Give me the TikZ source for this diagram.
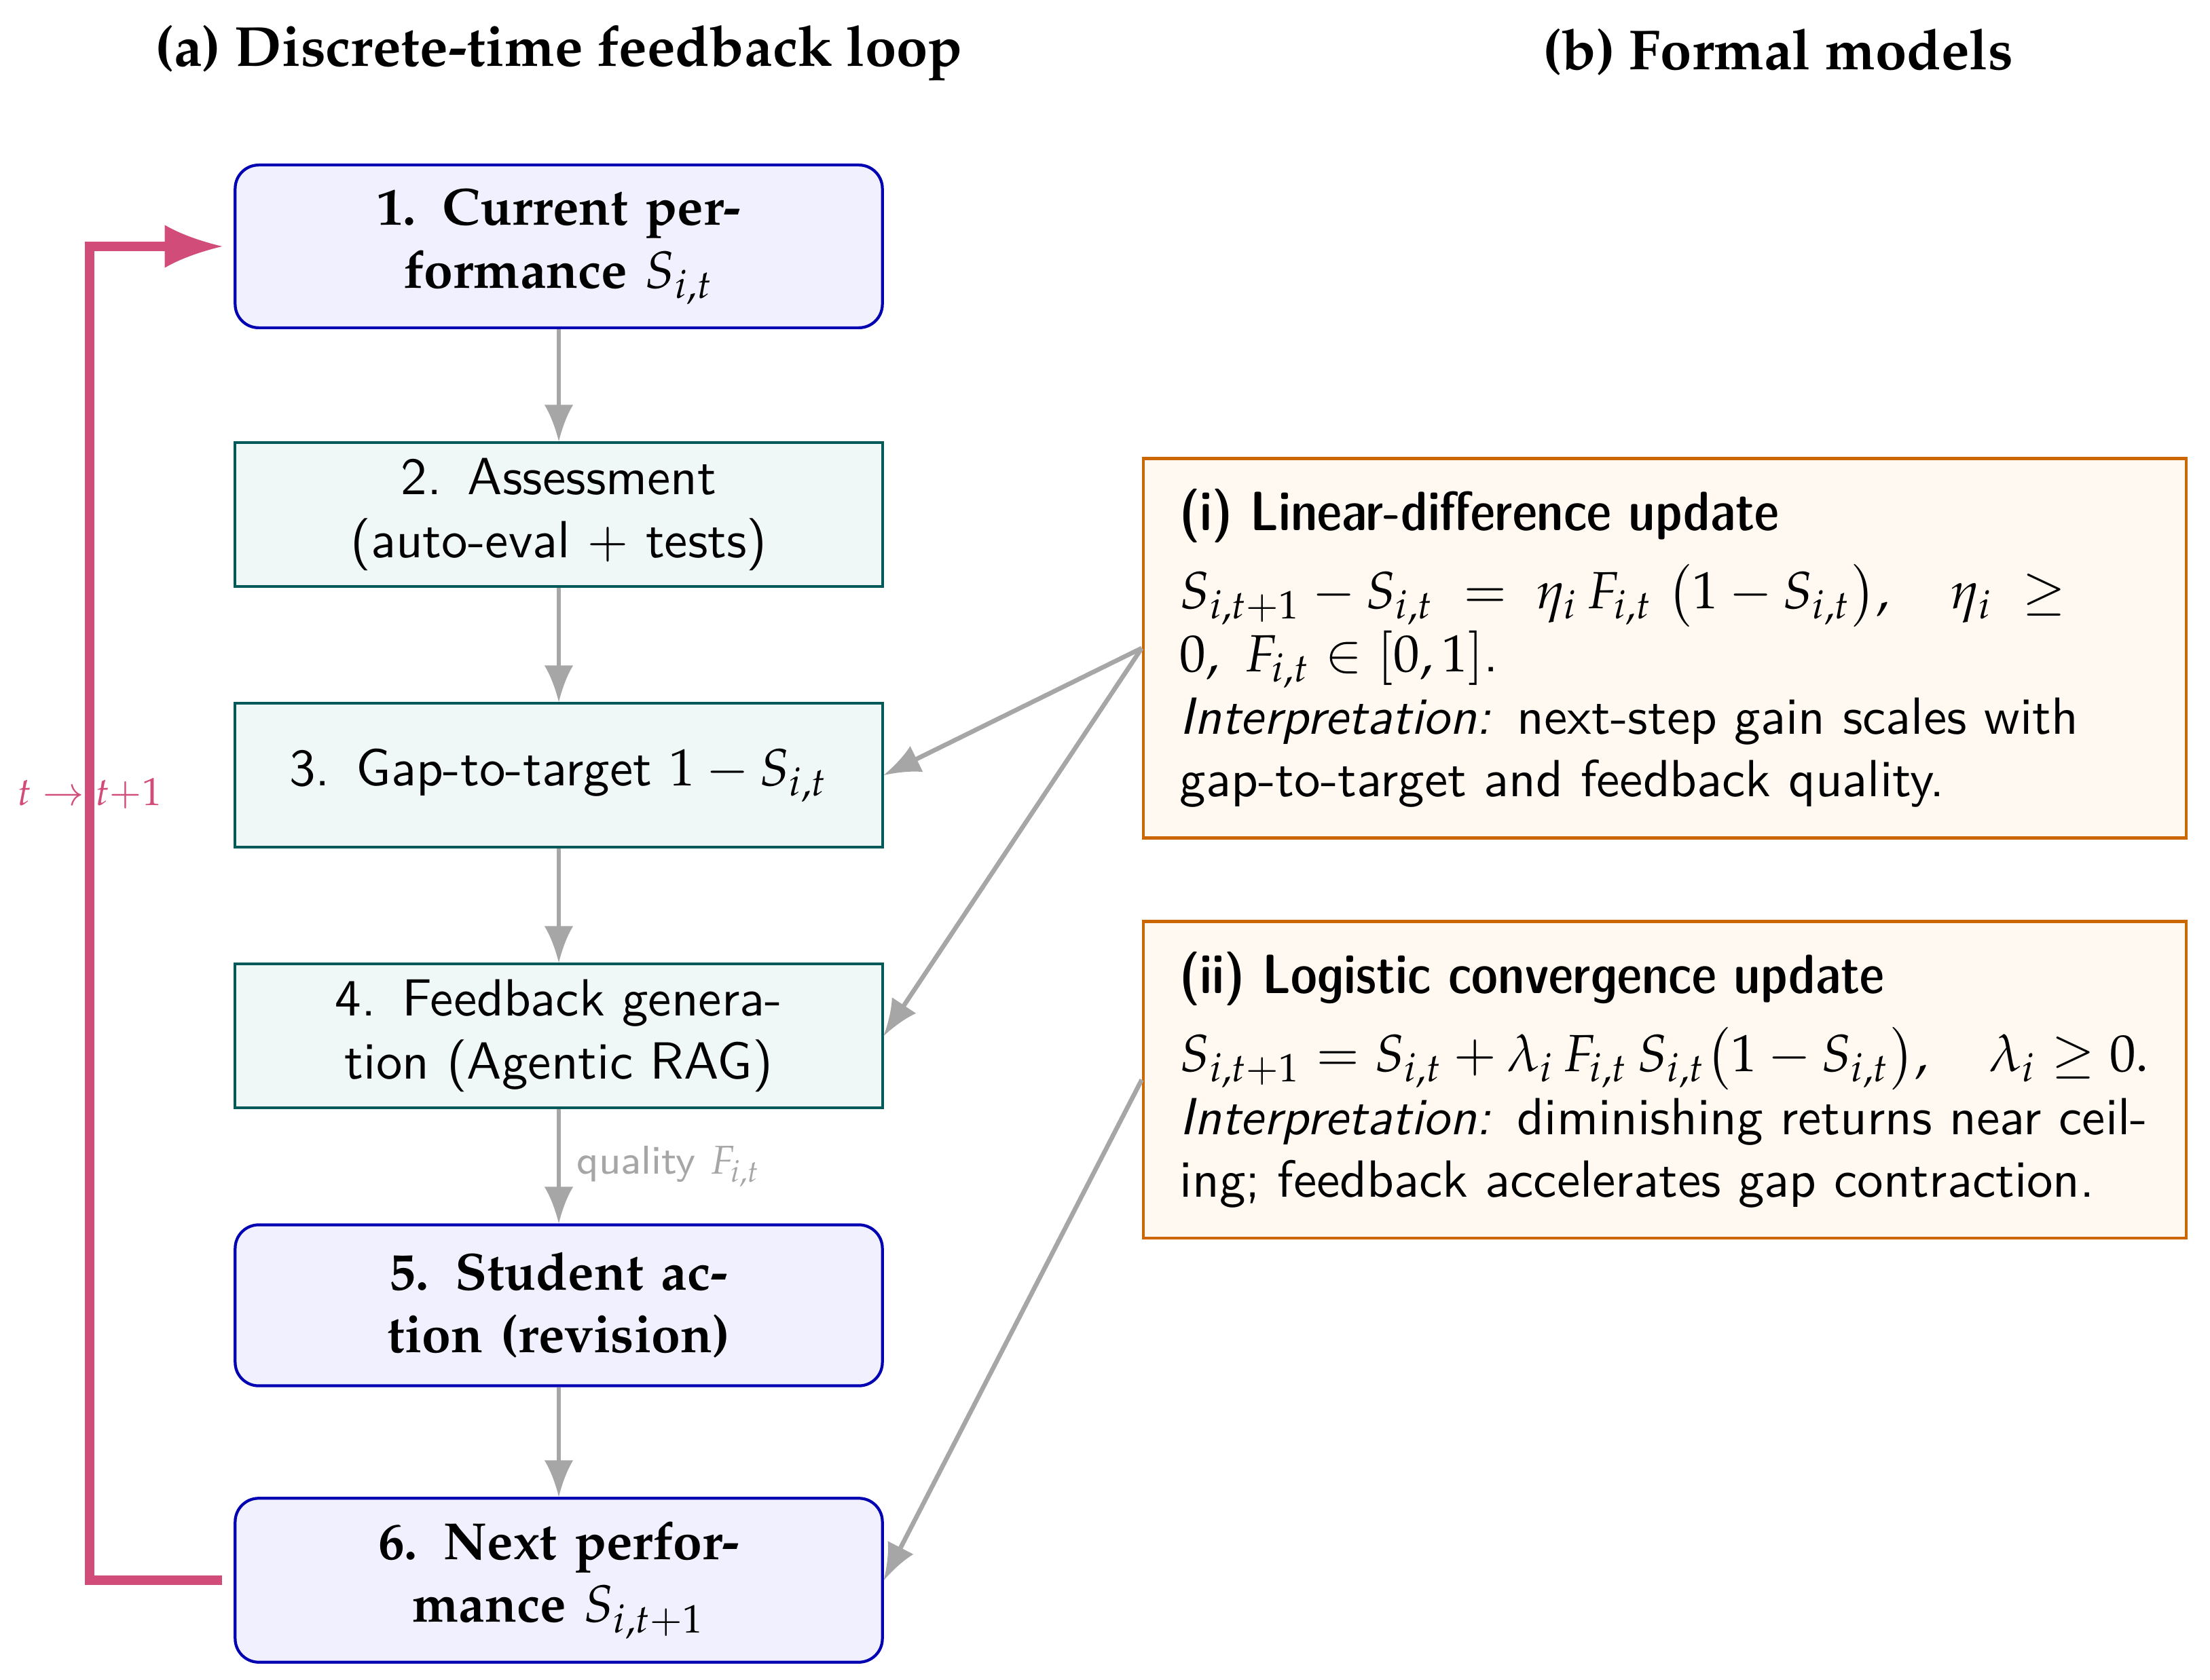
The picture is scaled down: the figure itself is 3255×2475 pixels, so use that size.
\documentclass[tikz,border=0pt]{standalone}
\usepackage{mathpazo}
\usetikzlibrary{arrows.meta}
\colorlet{bluebd}{blue!70!black}
\colorlet{bluefl}{blue!6}
\colorlet{tealbd}{teal!70!black}
\colorlet{tealfl}{teal!6}
\colorlet{orbd}{orange!80!black}
\colorlet{orfl}{orange!5}
\colorlet{graya}{gray!70}
\colorlet{pinkc}{purple!70}
\newcommand\palbf{\fontencoding{T1}\fontfamily{ppl}\fontseries{b}\selectfont}
\newcommand\titlefont{\fontencoding{T1}\fontfamily{ppl}\fontseries{b}\fontsize{10.8}{13}\selectfont}
\newcommand\sfdemi{\fontseries{sbc}\fontsize{10.6}{12.7}\selectfont}
\pgfdeclarearrow{
  name = CTri,
  parameters = {\the\pgfarrowlength,\the\pgfarrowwidth},
  setup code = {
    \pgfarrowssettipend{\pgfarrowlength}
    \pgfarrowssetlineend{.25\pgfarrowlength}
    \pgfarrowssavethe\pgfarrowlength
    \pgfarrowssavethe\pgfarrowwidth
  },
  drawing code = {
    \pgfpathmoveto{\pgfqpoint{\pgfarrowlength}{0pt}}
    \pgfpathcurveto{\pgfqpoint{.62\pgfarrowlength}{.12\pgfarrowwidth}}{\pgfqpoint{.25\pgfarrowlength}{.3\pgfarrowwidth}}{\pgfqpoint{0pt}{.5\pgfarrowwidth}}
    \pgfpathlineto{\pgfqpoint{0pt}{-.5\pgfarrowwidth}}
    \pgfpathcurveto{\pgfqpoint{.25\pgfarrowlength}{-.3\pgfarrowwidth}}{\pgfqpoint{.62\pgfarrowlength}{-.12\pgfarrowwidth}}{\pgfqpoint{\pgfarrowlength}{0pt}}
    \pgfpathclose
    \pgfusepathqfill
  },
  defaults = {length = 7pt, width = 5.5pt}
}
\tikzset{
  bluebox/.style={draw=bluebd, fill=bluefl, line width=0.55pt, rounded corners=4.5pt,
    text width=104pt, inner xsep=9.9pt, inner ysep=4.5pt, minimum height=30.8pt,
    align=center, font=\palbf},
  tealbox/.style={draw=tealbd, fill=tealfl, line width=0.5pt,
    text width=104pt, inner xsep=9.9pt, inner ysep=3pt, minimum height=27.5pt,
    align=center, font=\sffamily},
  orbox/.style={draw=orbd, fill=orfl, line width=0.6pt, text width=185.5pt,
    inner xsep=7pt, inner ysep=5.8pt, align=left, font=\sffamily, anchor=north},
  grayarrow/.style={draw=graya, line width=0.87pt, -{CTri[length=7pt,width=5.5pt]}},
  looparrow/.style={draw=pinkc, line width=1.8pt, -{CTri[length=11pt,width=8.2pt]},
    shorten <=2.2pt, shorten >=2.2pt},
  paneltitle/.style={font=\titlefont, anchor=base, inner sep=0pt}
}
\begin{document}
\begin{tikzpicture}[x=0.12987pt, y=-0.12987pt]
\useasboundingbox (0,0) rectangle (3255,2475);

\node[paneltitle] (ta) at (823,98) {(a) Discrete-time feedback loop};
\node[paneltitle] (tb) at (2619,103) {(b) Formal models};

\node[bluebox] (n1) at (823,363) {1. Current per-\\formance $S_{i,t}$};
\node[tealbox] (n2) at (823,758) {2. Assessment\\(auto-eval + tests)};
\node[tealbox] (n3) at (823,1142) {3. Gap-to-target $1-S_{i,t}$};
\node[tealbox] (n4) at (823,1526) {4. Feedback genera-\\tion (Agentic RAG)};
\node[bluebox] (n5) at (823,1923) {5. Student ac-\\tion (revision)};
\node[bluebox] (n6) at (823,2328) {6. Next perfor-\\mance $S_{i,t+1}$};

\node[orbox] (fi) at (2452,673) {{\sfdemi (i) Linear-difference update}\\[3pt]
\mbox{$S_{i,t+1}-S_{i,t}\;=\;\eta_i\,F_{i,t}\;\big(1-S_{i,t}\big),\quad \eta_i\;\ge$}\\
$0,\ F_{i,t}\in[0,1]$.\\
\textit{Interpretation:} next-step gain scales with\\
gap-to-target and feedback quality.};

\node[orbox] (fii) at (2452,1355) {{\sfdemi (ii) Logistic convergence update}\\[3pt]
\mbox{$S_{i,t+1}=S_{i,t}+\lambda_i\,F_{i,t}\,S_{i,t}\big(1-S_{i,t}\big),\quad \lambda_i\ge 0.$}\\
\textit{Interpretation:} diminishing returns near ceil-\\
ing; feedback accelerates gap contraction.};

\draw[grayarrow] (n1) -- (n2);
\draw[grayarrow] (n2) -- (n3);
\draw[grayarrow] (n3) -- (n4);
\draw[grayarrow] (n4) -- node[midway, right, inner sep=3pt, text=graya, font=\sffamily\fontsize{7.7}{9}\selectfont] (ql) {quality $F_{i,t}$} (n5);
\draw[grayarrow] (n5) -- (n6);

\draw[grayarrow] (fi.west) -- (n3.east);
\draw[grayarrow] (fi.west) -- (n4.east);
\draw[grayarrow] (fii.west) -- (n6.east);

\coordinate (loopx) at (132,0);
\draw[looparrow] (n6.west) -- (n6.west -| loopx) -- node[pos=0.59, text=pinkc, font=\fontsize{7.5}{9}\selectfont] (tl) {$t\rightarrow t{+}1$} (n1.west -| loopx) -- (n1.west);
\end{tikzpicture}
\end{document}
